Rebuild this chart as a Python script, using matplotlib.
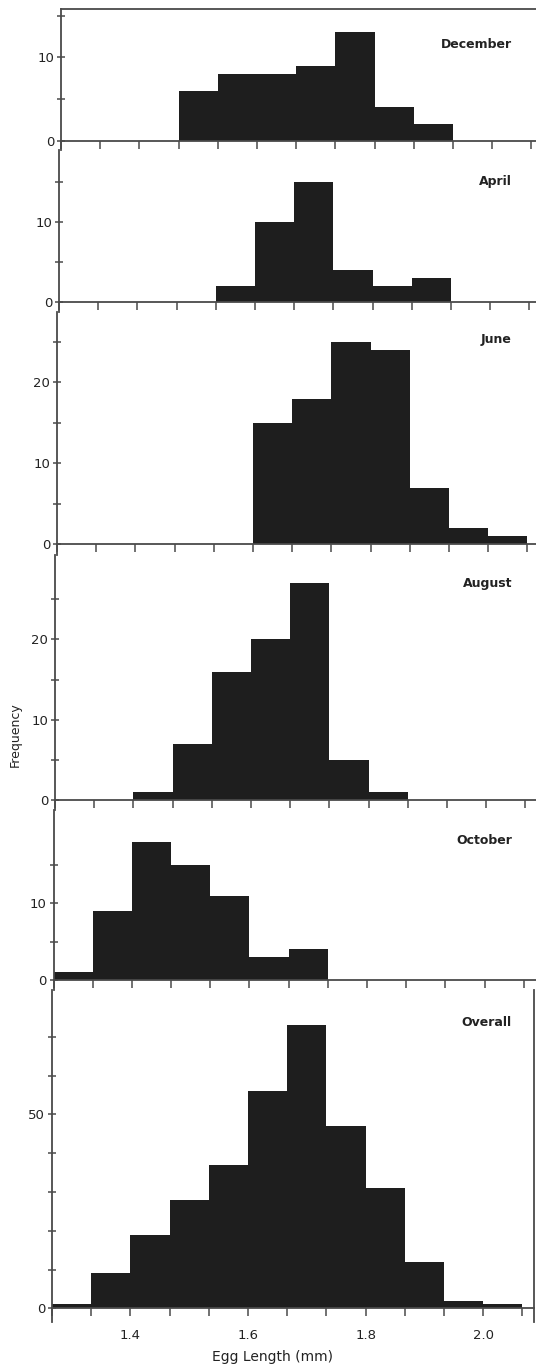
import matplotlib
matplotlib.use("Agg")
import matplotlib.pyplot as plt
import numpy as np

# bin left edges (mm), bin width 1/15 mm
bin_left = [1.2667, 1.3333, 1.4000, 1.4667, 1.5333, 1.6000,
            1.6667, 1.7333, 1.8000, 1.8667, 1.9333, 2.0000]
bin_width = 1.0 / 15.0
x_ticks = [1.4, 1.6, 1.8, 2.0]
x_tick_labels = ["1.4", "1.6", "1.8", "2.0"]
x_minor = [1.2667, 1.3333, 1.4667, 1.5333, 1.6667, 1.7333, 1.8667, 1.9333, 2.0667]

panel_names = ["December", "April", "June", "August", "October", "Overall"]
december = [0, 0, 0, 6, 8, 8, 9, 13, 4, 2, 0, 0]
april = [0, 0, 0, 0, 2, 10, 15, 4, 2, 3, 0, 0]
june = [0, 0, 0, 0, 0, 15, 18, 25, 24, 7, 2, 1]
august = [0, 0, 1, 7, 16, 20, 27, 5, 1, 0, 0, 0]
october = [1, 9, 18, 15, 11, 3, 4, 0, 0, 0, 0, 0]
overall = [1, 9, 19, 28, 37, 56, 73, 47, 31, 12, 2, 1]
panel_counts = [december, april, june, august, october, overall]

y_major = [[0, 10], [0, 10], [0, 10, 20], [0, 10, 20], [0, 10], [0, 50]]
y_minor = [[5, 15], [5, 15], [5, 15, 25], [5, 15, 25], [5, 15],
           [10, 20, 30, 40, 60, 70]]

# layout in figure pixels: top, zero line, bottom, left, pixels per count, label y
W, H = 536, 1365
layout = [
    (9, 140.7, 150, 61, 8.33, 45),
    (150, 302, 312, 59, 8.03, 181),
    (312, 544.3, 555, 57, 8.10, 340),
    (555, 800, 810, 55, 8.03, 583),
    (810, 980, 990, 53.5, 7.67, 840),
    (990, 1308.3, 1322, 52, 3.88, 1022),
]
px_per_mm = 588.0
x0 = 1.2667

bar_color = "#1e1e1e"
line_color = "#4a4a4a"
text_color = "#222222"

fig = plt.figure(figsize=(W / 100, H / 100), dpi=100)
fig.patch.set_facecolor("white")

for k, (name, counts) in enumerate(zip(panel_names, panel_counts)):
    top, zero, bottom, left, ppu, label_y = layout[k]
    right = W if k < 5 else W - 2
    ax = fig.add_axes([left / W, 1 - bottom / H, (right - left) / W, (bottom - top) / H])
    ax.set_facecolor("none")
    ax.bar(bin_left, counts, width=bin_width, align="edge",
           color=bar_color, edgecolor="none", zorder=2)
    ax.set_xlim(x0, x0 + (right - left) / px_per_mm)
    ax.set_ylim(-(bottom - zero) / ppu, (zero - top) / ppu)

    ax.spines["bottom"].set_position(("data", 0))
    ax.spines["top"].set_visible(k == 0)
    ax.spines["right"].set_visible(k == 5)
    for s in ax.spines.values():
        s.set_color(line_color)
        s.set_linewidth(1.3)
        s.set_zorder(3)

    ax.set_xticks(x_ticks)
    ax.set_xticks(x_minor, minor=True)
    ax.tick_params(axis="x", which="both", direction="out", length=6,
                   width=1.1, color=line_color, labelsize=9.5, labelcolor=text_color, pad=9)
    if k == 5:
        ax.set_xticklabels(x_tick_labels)
    else:
        ax.tick_params(axis="x", which="both", labelbottom=False)

    ax.set_yticks(y_major[k])
    ax.set_yticks(y_minor[k], minor=True)
    ax.tick_params(axis="y", which="both", direction="inout", length=6,
                   width=1.1, color=line_color, labelsize=9.5, labelcolor=text_color, pad=2)

    fig.text(512 / W, 1 - label_y / H, name, ha="right", va="center",
             fontsize=9, fontweight="bold", color=text_color)

fig.text(272 / W, 1 - 1357 / H, "Egg Length (mm)", ha="center", va="center",
         fontsize=10, color=text_color)
fig.text(15 / W, 1 - 735 / H, "Frequency", ha="center", va="center",
         rotation=90, fontsize=9, color=text_color)

fig.savefig("out.png", dpi=100)
